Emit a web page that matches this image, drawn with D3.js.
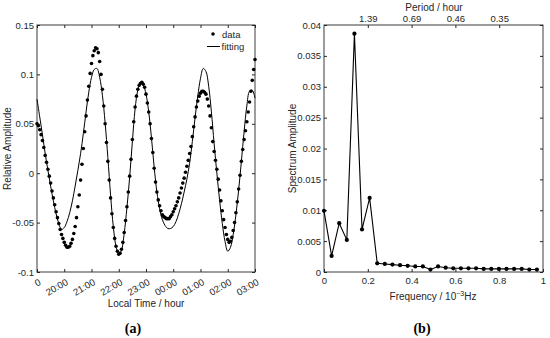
<!DOCTYPE html>
<html>
<head>
<meta charset="utf-8">
<script src="https://cdn.jsdelivr.net/npm/d3@7"></script>
<style>
  body { margin: 0; background: #fff; }
  svg { font-family: "Liberation Sans", Arial, sans-serif; }
</style>
</head>
<body>
<svg id="chart" width="550" height="338"></svg>
<script>
// (a) relative amplitude, one sample every 3 min starting 19:00
const sampleMinutes = 3;
const amplitude = [
  0.050, 0.048, 0.044, 0.039, 0.033, 0.026, 0.018, 0.011, 0.004, -0.003,
  -0.010, -0.018, -0.025, -0.032, -0.039, -0.045, -0.051, -0.057, -0.062, -0.066,
  -0.070, -0.073, -0.075, -0.075, -0.074, -0.071, -0.067, -0.061, -0.054, -0.045,
  -0.034, -0.022, -0.007, 0.009, 0.025, 0.042, 0.058, 0.074, 0.088, 0.101,
  0.111, 0.119, 0.124, 0.127, 0.126, 0.122, 0.113, 0.100, 0.085, 0.068,
  0.050, 0.031, 0.012, -0.007, -0.025, -0.041, -0.055, -0.066, -0.074, -0.079,
  -0.082, -0.081, -0.077, -0.070, -0.060, -0.048, -0.034, -0.019, -0.003, 0.014,
  0.034, 0.052, 0.067, 0.078, 0.085, 0.089, 0.091, 0.092, 0.090, 0.087,
  0.080, 0.071, 0.062, 0.050, 0.035, 0.021, 0.005, -0.009, -0.019, -0.027,
  -0.033, -0.038, -0.042, -0.044, -0.045, -0.046, -0.046, -0.046, -0.044, -0.042,
  -0.039, -0.036, -0.033, -0.029, -0.025, -0.020, -0.015, -0.010, -0.005, 0.001,
  0.007, 0.013, 0.020, 0.027, 0.037, 0.047, 0.057, 0.067, 0.073, 0.078,
  0.081, 0.083, 0.083, 0.082, 0.080, 0.075, 0.068, 0.058, 0.046, 0.032,
  0.022, 0.013, 0.004, -0.006, -0.017, -0.028, -0.038, -0.047, -0.055, -0.062,
  -0.067, -0.070, -0.069, -0.065, -0.058, -0.050, -0.040, -0.029, -0.016, -0.002,
  0.012, 0.024, 0.034, 0.043, 0.052, 0.062, 0.072, 0.083, 0.094, 0.105,
  0.115
];

// fitted curve, one value every 6 min
const fitMinutes = 6;
const fitting = [
  0.075, 0.057, 0.039, 0.020, 0.003, -0.013, -0.028, -0.041, -0.051, -0.057,
  -0.055, -0.049, -0.040, -0.028, -0.013, 0.003, 0.020, 0.040, 0.062, 0.082,
  0.097, 0.105, 0.106, 0.097, 0.079, 0.051, 0.016, -0.022, -0.054, -0.074,
  -0.082, -0.078, -0.061, -0.035, -0.004, 0.032, 0.065, 0.084, 0.091, 0.089,
  0.080, 0.062, 0.036, 0.006, -0.019, -0.036, -0.047, -0.053, -0.056, -0.056,
  -0.054, -0.049, -0.041, -0.031, -0.019, -0.006, 0.010, 0.032, 0.056, 0.078,
  0.096, 0.106, 0.103, 0.088, 0.062, 0.030, 0.000, -0.027, -0.051, -0.069,
  -0.079, -0.075, -0.062, -0.042, -0.017, 0.012, 0.042, 0.068, 0.083, 0.084,
  0.076
];

const timeTicks = [0, 1, 2, 3, 4, 5, 6, 7, 8];
const timeLabels = ["0", "20:00", "21:00", "22:00", "23:00", "00:00", "01:00", "02:00", "03:00"];
const ampTicks = [-0.1, -0.05, 0, 0.05, 0.1, 0.15];

// (b) spectrum, frequency step 1/(8 h) in 10^-3 Hz
const freqStep = 1000 / (8 * 3600);
const spectrum = [
  0.0099, 0.0026, 0.0079, 0.0052, 0.0386, 0.0069, 0.0120, 0.0014, 0.0013, 0.0012,
  0.0011, 0.0010, 0.0009, 0.0009, 0.0004, 0.0009, 0.0007, 0.0006, 0.0006, 0.0006,
  0.0006, 0.0005, 0.0005, 0.0005, 0.0005, 0.0005, 0.0005, 0.0004, 0.0004
];
const freqTicks = [0, 0.2, 0.4, 0.6, 0.8, 1];
const specTicks = [0, 0.005, 0.01, 0.015, 0.02, 0.025, 0.03, 0.035, 0.04];
const periodTickFreqs = [0.2, 0.4, 0.6, 0.8];
const periodLabels = ["1.39", "0.69", "0.46", "0.35"];

const ink = "#262626";
const svg = d3.select("#chart");
const num = d => String(+d.toFixed(3));

function frame(g, w, h) {
  g.append("rect")
    .attr("width", w).attr("height", h)
    .attr("fill", "none").attr("stroke", ink).attr("stroke-width", 0.9);
}

function styleAxis(g) {
  g.select(".domain").remove();
  g.selectAll("line").attr("stroke", ink);
  g.selectAll("text").attr("fill", ink).style("font-size", "9.5px");
}

// ---------- panel (a) ----------
const pa = { left: 37, top: 25, width: 218, height: 247 };
const gA = svg.append("g").attr("transform", `translate(${pa.left},${pa.top})`);

const xA = d3.scaleLinear().domain([0, 8]).range([0, pa.width]);
const yA = d3.scaleLinear().domain([-0.1, 0.15]).range([pa.height, 0]);

gA.append("g")
  .attr("transform", `translate(0,${pa.height})`)
  .call(d3.axisBottom(xA).tickValues(timeTicks).tickFormat((d, i) => timeLabels[i])
    .tickSizeInner(-3).tickSizeOuter(0))
  .call(styleAxis)
  .call(g => g.selectAll("text")
    .attr("x", 0).attr("y", 0).attr("dy", null)
    .attr("text-anchor", "end")
    .attr("transform", "translate(4,12) rotate(-30)"));

gA.append("g")
  .call(d3.axisTop(xA).tickValues(timeTicks).tickFormat("").tickSizeInner(-3).tickSizeOuter(0))
  .call(styleAxis);

gA.append("g")
  .call(d3.axisLeft(yA).tickValues(ampTicks).tickFormat(num).tickSizeInner(-3).tickSizeOuter(0).tickPadding(3))
  .call(styleAxis);

gA.append("g")
  .attr("transform", `translate(${pa.width},0)`)
  .call(d3.axisRight(yA).tickValues(ampTicks).tickFormat("").tickSizeInner(-3).tickSizeOuter(0))
  .call(styleAxis);

frame(gA, pa.width, pa.height);

const fitLine = d3.line()
  .x((d, i) => xA(i * fitMinutes / 60))
  .y(d => yA(d))
  .curve(d3.curveCatmullRom);

gA.append("path")
  .datum(fitting)
  .attr("d", fitLine)
  .attr("fill", "none")
  .attr("stroke", "#000")
  .attr("stroke-width", 1);

gA.selectAll(".dot")
  .data(amplitude)
  .enter().append("circle")
  .attr("class", "dot")
  .attr("cx", (d, i) => xA(i * sampleMinutes / 60))
  .attr("cy", d => yA(d))
  .attr("r", 1.8)
  .attr("fill", "#000");

// legend
const legA = svg.append("g").style("font-size", "9.5px").attr("fill", ink);
legA.append("circle").attr("cx", 213).attr("cy", 34).attr("r", 1.8).attr("fill", "#000");
legA.append("text").attr("x", 222).attr("y", 37.5).text("data");
legA.append("line").attr("x1", 207).attr("x2", 220).attr("y1", 46.5).attr("y2", 46.5)
  .attr("stroke", "#000").attr("stroke-width", 1);
legA.append("text").attr("x", 221.5).attr("y", 50).text("fitting");

// axis labels (a)
svg.append("text")
  .attr("transform", `translate(10.5,${pa.top + pa.height / 2}) rotate(-90)`)
  .attr("text-anchor", "middle")
  .style("font-size", "10px").attr("fill", ink)
  .text("Relative Amplitude");

svg.append("text")
  .attr("x", pa.left + pa.width / 2).attr("y", 306.5)
  .attr("text-anchor", "middle")
  .style("font-size", "10px").attr("fill", ink)
  .text("Local Time / hour");

svg.append("text")
  .attr("x", 133).attr("y", 333)
  .attr("text-anchor", "middle")
  .style("font-family", "'Liberation Serif', 'Times New Roman', serif")
  .style("font-size", "14px")
  .style("font-weight", "bold")
  .text("(a)");

// ---------- panel (b) ----------
const pb = { left: 324, top: 25, width: 219, height: 247 };
const gB = svg.append("g").attr("transform", `translate(${pb.left},${pb.top})`);

const xB = d3.scaleLinear().domain([0, 1]).range([0, pb.width]);
const yB = d3.scaleLinear().domain([0, 0.04]).range([pb.height, 0]);

gB.append("g")
  .attr("transform", `translate(0,${pb.height})`)
  .call(d3.axisBottom(xB).tickValues(freqTicks).tickFormat(num).tickSizeInner(-3).tickSizeOuter(0).tickPadding(5))
  .call(styleAxis);

gB.append("g")
  .call(d3.axisTop(xB).tickValues(periodTickFreqs).tickFormat((d, i) => periodLabels[i])
    .tickSizeInner(-3).tickSizeOuter(0).tickPadding(3))
  .call(styleAxis);

gB.append("g")
  .call(d3.axisLeft(yB).tickValues(specTicks).tickFormat(num).tickSizeInner(-3).tickSizeOuter(0).tickPadding(3))
  .call(styleAxis);

gB.append("g")
  .attr("transform", `translate(${pb.width},0)`)
  .call(d3.axisRight(yB).tickValues(specTicks).tickFormat("").tickSizeInner(-3).tickSizeOuter(0))
  .call(styleAxis);

frame(gB, pb.width, pb.height);

const specLine = d3.line()
  .x((d, i) => xB(i * freqStep))
  .y(d => yB(d));

gB.append("path")
  .datum(spectrum)
  .attr("d", specLine)
  .attr("fill", "none")
  .attr("stroke", "#000")
  .attr("stroke-width", 1.1);

gB.selectAll(".pt")
  .data(spectrum)
  .enter().append("circle")
  .attr("class", "pt")
  .attr("cx", (d, i) => xB(i * freqStep))
  .attr("cy", d => yB(d))
  .attr("r", 2.1)
  .attr("fill", "#000");

// axis labels (b)
svg.append("text")
  .attr("transform", `translate(296,${pb.top + pb.height / 2}) rotate(-90)`)
  .attr("text-anchor", "middle")
  .style("font-size", "10px").attr("fill", ink)
  .text("Spectrum Amplitude");

svg.append("text")
  .attr("x", 434).attr("y", 10.5)
  .attr("text-anchor", "middle")
  .style("font-size", "10px").attr("fill", ink)
  .text("Period / hour");

const fx = svg.append("text")
  .attr("x", 433).attr("y", 299.5)
  .attr("text-anchor", "middle")
  .style("font-size", "10px").attr("fill", ink);
fx.append("tspan").text("Frequency / 10");
fx.append("tspan").attr("dy", -4).style("font-size", "7px").text("\u22123");
fx.append("tspan").attr("dy", 4).text("Hz");

svg.append("text")
  .attr("x", 422).attr("y", 333)
  .attr("text-anchor", "middle")
  .style("font-family", "'Liberation Serif', 'Times New Roman', serif")
  .style("font-size", "14px")
  .style("font-weight", "bold")
  .text("(b)");
</script>
</body>
</html>
